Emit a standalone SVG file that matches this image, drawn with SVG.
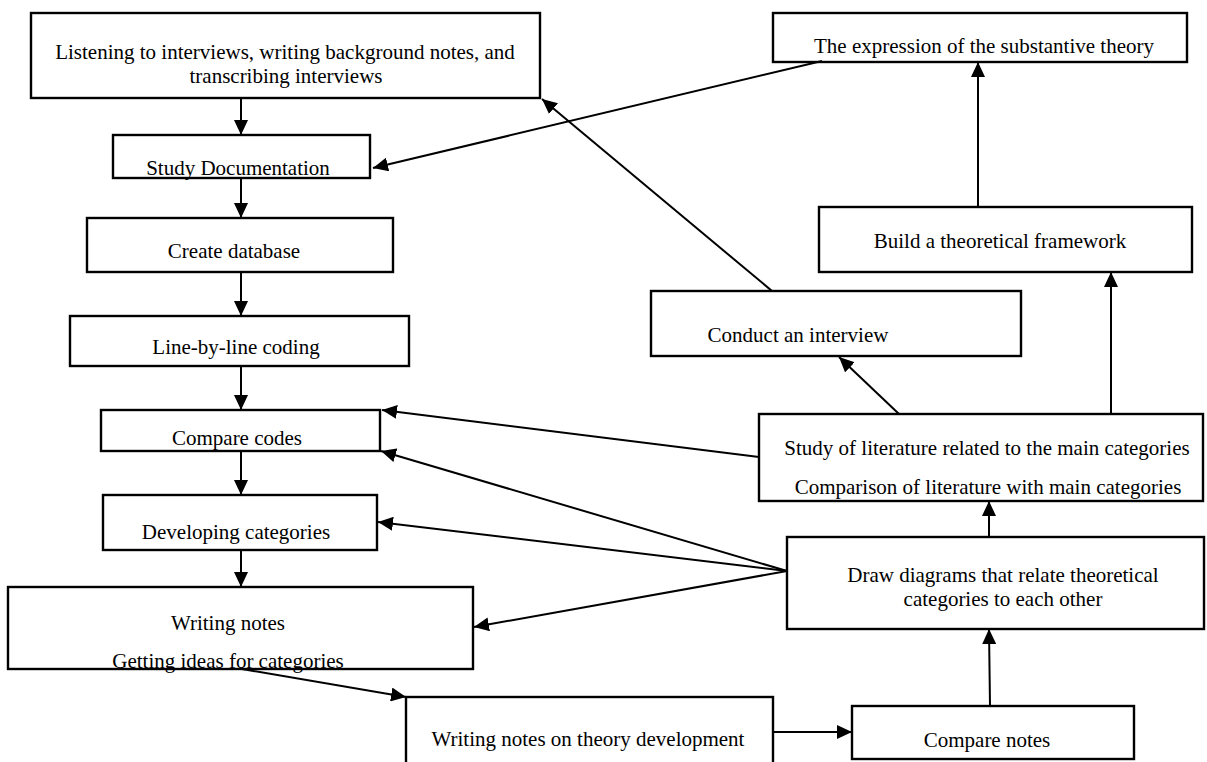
<svg xmlns="http://www.w3.org/2000/svg" width="1207" height="762" viewBox="0 0 1207 762">
<style>
  .box { fill: #ffffff; stroke: #000000; stroke-width: 2.4; }
  .lbl { font-family: "Liberation Serif", "Times New Roman", serif; font-size: 21px; fill: #000000; text-anchor: middle; }
  .con { stroke: #000000; stroke-width: 2; fill: none; marker-end: url(#arrow); }
</style>
<defs>
  <marker id="arrow" markerUnits="userSpaceOnUse" markerWidth="16" markerHeight="14" refX="15" refY="7" orient="auto">
    <path d="M0,0 L15,7 L0,14 z" fill="#000000"/>
  </marker>
</defs>
<rect width="1207" height="762" fill="#ffffff"/>

<g id="node-listening">
  <rect class="box" x="31" y="13" width="509" height="85"/>
  <text class="lbl" x="285" y="59">Listening to interviews, writing background notes, and</text>
  <text class="lbl" x="286" y="83">transcribing interviews</text>
</g>
<g id="node-study-doc">
  <rect class="box" x="113" y="135" width="257" height="43"/>
  <text class="lbl" x="238" y="175">Study Documentation</text>
</g>
<g id="node-create-db">
  <rect class="box" x="87" y="218" width="306" height="54"/>
  <text class="lbl" x="234" y="258">Create database</text>
</g>
<g id="node-line-coding">
  <rect class="box" x="70" y="316" width="339" height="50"/>
  <text class="lbl" x="236" y="354">Line-by-line coding</text>
</g>
<g id="node-compare-codes">
  <rect class="box" x="101" y="410" width="279" height="41"/>
  <text class="lbl" x="237" y="445">Compare codes</text>
</g>
<g id="node-developing">
  <rect class="box" x="103" y="495" width="274" height="55"/>
  <text class="lbl" x="236" y="539">Developing categories</text>
</g>
<g id="node-writing-notes">
  <rect class="box" x="8" y="587" width="465" height="82"/>
  <text class="lbl" x="228" y="630">Writing notes</text>
  <text class="lbl" x="228" y="668">Getting ideas for categories</text>
</g>
<g id="node-notes-theory">
  <rect class="box" x="406" y="697" width="367" height="70"/>
  <text class="lbl" x="588" y="746">Writing notes on theory development</text>
</g>
<g id="node-compare-notes">
  <rect class="box" x="852" y="706" width="282" height="53"/>
  <text class="lbl" x="987" y="747">Compare notes</text>
</g>
<g id="node-draw-diagrams">
  <rect class="box" x="787" y="537" width="417" height="92"/>
  <text class="lbl" x="1003" y="582">Draw diagrams that relate theoretical</text>
  <text class="lbl" x="1003" y="606">categories to each other</text>
</g>
<g id="node-study-lit">
  <rect class="box" x="759" y="414" width="444" height="87"/>
  <text class="lbl" x="987" y="455">Study of literature related to the main categories</text>
  <text class="lbl" x="988" y="494">Comparison of literature with main categories</text>
</g>
<g id="node-conduct">
  <rect class="box" x="651" y="291" width="370" height="65"/>
  <text class="lbl" x="798" y="342">Conduct an interview</text>
</g>
<g id="node-build">
  <rect class="box" x="819" y="207" width="373" height="65"/>
  <text class="lbl" x="1000" y="248">Build a theoretical framework</text>
</g>
<g id="node-expression">
  <rect class="box" x="773" y="13" width="414" height="49"/>
  <text class="lbl" x="984" y="53">The expression of the substantive theory</text>
</g>

<g id="connectors">
  <line class="con" x1="241" y1="98" x2="241" y2="135"/>
  <line class="con" x1="241" y1="178" x2="241" y2="218"/>
  <line class="con" x1="241" y1="272" x2="241" y2="316"/>
  <line class="con" x1="241" y1="366" x2="241" y2="410"/>
  <line class="con" x1="241" y1="451" x2="241" y2="495"/>
  <line class="con" x1="241" y1="550" x2="241" y2="587"/>
  <line class="con" x1="242" y1="669" x2="406" y2="697"/>
  <line class="con" x1="773" y1="732" x2="852" y2="732"/>
  <line class="con" x1="990" y1="706" x2="989" y2="629"/>
  <line class="con" x1="989" y1="537" x2="989" y2="501"/>
  <line class="con" x1="787" y1="571" x2="381" y2="451"/>
  <line class="con" x1="787" y1="571" x2="378" y2="522"/>
  <line class="con" x1="787" y1="571" x2="474" y2="627"/>
  <line class="con" x1="759" y1="457" x2="382" y2="410"/>
  <line class="con" x1="899" y1="414" x2="839" y2="357"/>
  <line class="con" x1="1111" y1="414" x2="1111" y2="272"/>
  <line class="con" x1="772" y1="291" x2="542" y2="99"/>
  <line class="con" x1="978" y1="207" x2="978" y2="62"/>
  <line class="con" x1="822" y1="61" x2="373" y2="168"/>
</g>
</svg>
